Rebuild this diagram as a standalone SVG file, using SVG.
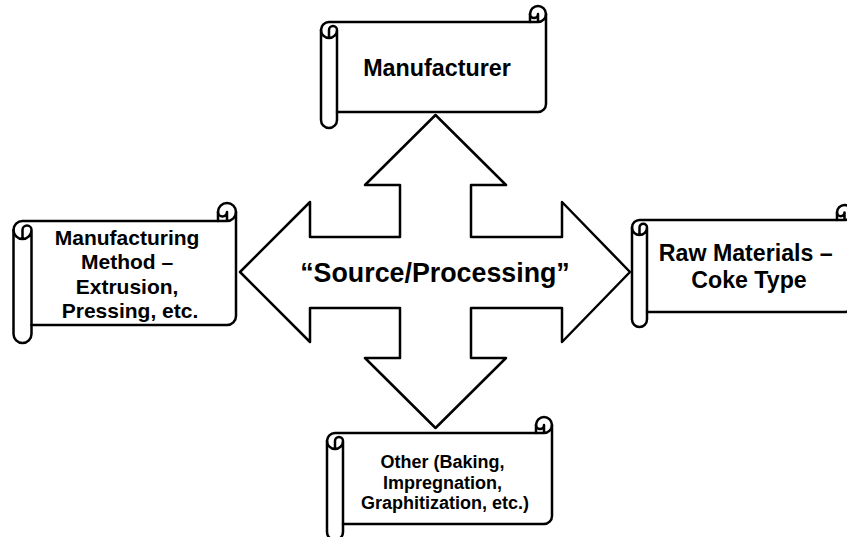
<svg xmlns="http://www.w3.org/2000/svg" width="847" height="537" viewBox="0 0 847 537">
  <style>
    .shape { fill: #ffffff; stroke: #000000; stroke-width: 2.5; stroke-linejoin: round; }
    .detail { fill: none; stroke: #000000; stroke-width: 2.5; stroke-linejoin: round; stroke-linecap: round; }
    .label { font-family: "Liberation Sans", Arial, sans-serif; font-weight: bold; fill: #000000; text-anchor: middle; }
  </style>
  <rect width="847" height="537" fill="#ffffff"/>

  <!-- four-way arrow hub -->
  <g id="connectors">
    <path class="shape" d="M435.5,115 L506,185 L471,185 L471,237 L562,237 L562,202 L630,272 L562,342 L562,308 L471,308 L471,358 L506,358 L435.5,428 L365,358 L400,358 L400,308 L310,308 L310,342 L240,272 L310,202 L310,237 L400,237 L400,185 L365,185 Z"/>
    <text class="label" x="435" y="281.5" font-size="26.8">“Source/Processing”</text>
  </g>

  <!-- top scroll -->
  <g id="node-manufacturer">
    <path class="shape" d="M321,30 A8,8 0 0 1 329,22 L530,22 L530,14 A8,8 0 0 1 546,14 L546,104 A8,8 0 0 1 538,112 L337,112 L337,120 A8,8 0 0 1 321,120 Z"/>
    <path class="detail" d="M530,22 L538,22 A8,8 0 0 0 546,14 M538,22 L538,14 A4,4 0 0 1 530,14 M329,38 L329,30 A4,4 0 0 1 337,30 A8,8 0 0 1 321,30 M337,30 L337,112"/>
    <text class="label" x="437" y="76" font-size="23.3">Manufacturer</text>
  </g>

  <!-- left scroll -->
  <g id="node-method">
    <path class="shape" d="M13.5,230 A9,9 0 0 1 22.5,221 L218,221 L218,212 A9,9 0 0 1 236,212 L236,316 A9,9 0 0 1 227,325 L31.5,325 L31.5,334 A9,9 0 0 1 13.5,334 Z"/>
    <path class="detail" d="M218,221 L227,221 A9,9 0 0 0 236,212 M227,221 L227,212 A4.5,4.5 0 0 1 218,212 M22.5,239 L22.5,230 A4.5,4.5 0 0 1 31.5,230 A9,9 0 0 1 13.5,230 M31.5,230 L31.5,325"/>
    <text class="label" font-size="21">
      <tspan x="130" y="245">Manufacturing</tspan>
      <tspan x="130" y="269.4">Method –</tspan>
      <tspan x="130" y="293.8">Extrusion,</tspan>
      <tspan x="130" y="318.2">Pressing, etc.</tspan>
    </text>
  </g>

  <!-- right scroll -->
  <g id="node-raw-materials">
    <path class="shape" d="M632,227.5 A7.5,7.5 0 0 1 639.5,220 L837,220 L837,212.5 A7.5,7.5 0 0 1 852,212.5 L852,304.5 A7.5,7.5 0 0 1 844.5,312 L647,312 L647,319.5 A7.5,7.5 0 0 1 632,319.5 Z"/>
    <path class="detail" d="M837,220 L844.5,220 A7.5,7.5 0 0 0 852,212.5 M844.5,220 L844.5,212.5 A3.75,3.75 0 0 1 837,212.5 M639.5,235 L639.5,227.5 A3.75,3.75 0 0 1 647,227.5 A7.5,7.5 0 0 1 632,227.5 M647,227.5 L647,312"/>
    <text class="label" font-size="23.2">
      <tspan x="749" y="261">Raw Materials –</tspan>
      <tspan x="749" y="288">Coke Type</tspan>
    </text>
  </g>

  <!-- bottom scroll -->
  <g id="node-other">
    <path class="shape" d="M327,441 A8,8 0 0 1 335,433 L536,433 L536,425 A8,8 0 0 1 552,425 L552,516 A8,8 0 0 1 544,524 L343,524 L343,532 A8,8 0 0 1 327,532 Z"/>
    <path class="detail" d="M536,433 L544,433 A8,8 0 0 0 552,425 M544,433 L544,425 A4,4 0 0 1 536,425 M335,449 L335,441 A4,4 0 0 1 343,441 A8,8 0 0 1 327,441 M343,441 L343,524"/>
    <text class="label" font-size="18">
      <tspan x="445" y="468">Other (Baking,</tspan>
      <tspan x="445" y="488.5">Impregnation,</tspan>
      <tspan x="445" y="509">Graphitization, etc.)</tspan>
    </text>
  </g>
</svg>
